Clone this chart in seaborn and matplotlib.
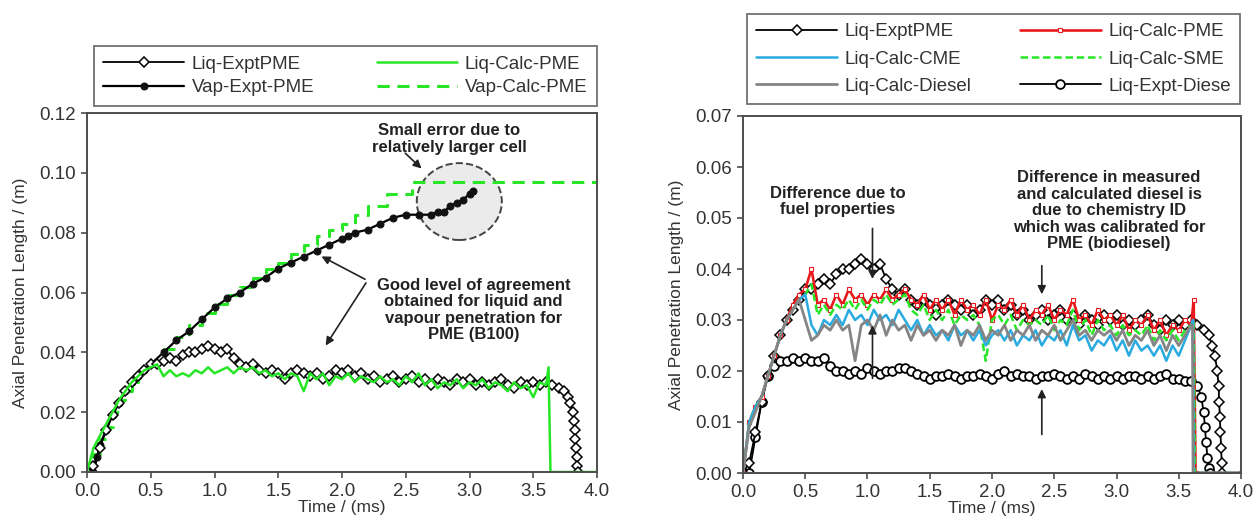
import numpy as np
import pandas as pd
import matplotlib
matplotlib.use('Agg')
import matplotlib.pyplot as plt
from matplotlib.patches import Ellipse
import seaborn as sns

t_grid = np.round(np.arange(0, 3.601, 0.05), 2)

# ---- left panel ----
liq_expt_pme = [0.000, 0.002, 0.008, 0.014, 0.019, 0.023, 0.027, 0.030, 0.032, 0.034,
                0.036, 0.036, 0.037, 0.038, 0.037, 0.039, 0.040, 0.040, 0.041, 0.042,
                0.041, 0.040, 0.041, 0.038, 0.036, 0.035, 0.036, 0.034, 0.033, 0.034,
                0.033, 0.031, 0.033, 0.034, 0.033, 0.032, 0.033, 0.031, 0.032, 0.034,
                0.033, 0.034, 0.032, 0.033, 0.031, 0.032, 0.030, 0.031, 0.032, 0.030,
                0.031, 0.032, 0.030, 0.031, 0.029, 0.031, 0.030, 0.029, 0.031, 0.030,
                0.031, 0.029, 0.030, 0.029, 0.030, 0.031, 0.029, 0.028, 0.030, 0.029,
                0.030, 0.029, 0.030]
liq_expt_pme_tail_t = [3.65, 3.70, 3.74, 3.77, 3.79, 3.81, 3.82, 3.825, 3.83, 3.835, 3.84, 3.845, 3.85]
liq_expt_pme_tail = [0.029, 0.028, 0.027, 0.025, 0.023, 0.020, 0.017, 0.014, 0.011, 0.008, 0.005, 0.002, 0.000]

liq_calc_pme_left = [0.000, 0.008, 0.012, 0.016, 0.020, 0.024, 0.027, 0.030, 0.032, 0.034,
                     0.035, 0.036, 0.032, 0.034, 0.032, 0.033, 0.032, 0.034, 0.033, 0.035,
                     0.033, 0.034, 0.035, 0.033, 0.035, 0.034, 0.035, 0.033, 0.034, 0.032,
                     0.033, 0.031, 0.033, 0.032, 0.027, 0.033, 0.031, 0.033, 0.029, 0.032,
                     0.031, 0.033, 0.030, 0.032, 0.031, 0.030, 0.032, 0.030, 0.031, 0.029,
                     0.032, 0.030, 0.033, 0.029, 0.031, 0.028, 0.030, 0.029, 0.031, 0.028,
                     0.030, 0.029, 0.031, 0.028, 0.030, 0.029, 0.027, 0.030, 0.028, 0.029,
                     0.025, 0.030, 0.029]
liq_calc_pme_left_tail_t = [3.62, 3.635, 4.0]
liq_calc_pme_left_tail = [0.035, 0.0, 0.0]

vap_expt_t = [0.05, 0.08, 0.10, 0.15, 0.20, 0.25, 0.30, 0.35, 0.40, 0.45, 0.50, 0.60, 0.70, 0.80,
              0.90, 1.00, 1.10, 1.20, 1.30, 1.40, 1.50, 1.60, 1.70, 1.80, 1.90, 2.00, 2.05, 2.10,
              2.20, 2.30, 2.40, 2.50, 2.60, 2.70, 2.75, 2.80, 2.85, 2.90, 2.95, 3.00, 3.03]
vap_expt_pme = [0.000, 0.005, 0.009, 0.014, 0.019, 0.023, 0.027, 0.030, 0.032, 0.034, 0.036, 0.040,
                0.044, 0.047, 0.051, 0.055, 0.058, 0.060, 0.063, 0.065, 0.068, 0.070, 0.072, 0.074,
                0.076, 0.078, 0.079, 0.080, 0.081, 0.083, 0.085, 0.086, 0.086, 0.086, 0.087, 0.087,
                0.089, 0.090, 0.091, 0.093, 0.094]

vap_calc_t = [0.0, 0.05, 0.10, 0.15, 0.20, 0.25, 0.30, 0.35, 0.40, 0.45, 0.50, 0.60, 0.70, 0.80,
              0.90, 1.00, 1.10, 1.20, 1.30, 1.40, 1.50, 1.60, 1.70, 1.80, 1.90, 2.00, 2.10, 2.20,
              2.35, 2.55, 4.00]
vap_calc_pme = [0.000, 0.006, 0.011, 0.015, 0.020, 0.024, 0.027, 0.030, 0.033, 0.035, 0.037, 0.041,
                0.045, 0.049, 0.053, 0.056, 0.059, 0.062, 0.065, 0.068, 0.070, 0.073, 0.076, 0.079,
                0.081, 0.083, 0.086, 0.089, 0.093, 0.097, 0.097]

# ---- right panel ----
liq_calc_pme = [0.000, 0.010, 0.013, 0.015, 0.019, 0.023, 0.027, 0.030, 0.033, 0.035,
                0.036, 0.040, 0.033, 0.034, 0.032, 0.035, 0.033, 0.036, 0.034, 0.035,
                0.033, 0.035, 0.034, 0.036, 0.034, 0.035, 0.036, 0.034, 0.033, 0.035,
                0.032, 0.034, 0.032, 0.034, 0.031, 0.034, 0.032, 0.033, 0.031, 0.034,
                0.030, 0.033, 0.032, 0.034, 0.031, 0.033, 0.030, 0.032, 0.031, 0.033,
                0.030, 0.032, 0.031, 0.034, 0.030, 0.031, 0.029, 0.032, 0.030, 0.031,
                0.029, 0.031, 0.028, 0.030, 0.029, 0.031, 0.028, 0.030, 0.027, 0.029,
                0.028, 0.030, 0.029]
liq_calc_pme_tail_t = [3.62, 3.635, 4.0]
liq_calc_pme_tail = [0.034, 0.0, 0.0]

liq_calc_sme = [0.000, 0.010, 0.013, 0.015, 0.019, 0.023, 0.027, 0.030, 0.032, 0.034,
                0.035, 0.037, 0.031, 0.033, 0.031, 0.033, 0.032, 0.034, 0.032, 0.034,
                0.032, 0.034, 0.033, 0.035, 0.033, 0.034, 0.035, 0.032, 0.031, 0.033,
                0.030, 0.032, 0.030, 0.032, 0.029, 0.031, 0.030, 0.031, 0.029, 0.022,
                0.030, 0.031, 0.029, 0.031, 0.028, 0.030, 0.029, 0.030, 0.029, 0.031,
                0.028, 0.030, 0.029, 0.032, 0.028, 0.030, 0.027, 0.030, 0.028, 0.029,
                0.027, 0.029, 0.027, 0.028, 0.027, 0.029, 0.026, 0.028, 0.026, 0.028,
                0.026, 0.028, 0.029]
liq_calc_sme_tail_t = [3.62, 3.63, 4.0]
liq_calc_sme_tail = [0.030, 0.0, 0.0]

liq_calc_cme = [0.000, 0.010, 0.013, 0.015, 0.019, 0.023, 0.027, 0.030, 0.032, 0.034,
                0.035, 0.029, 0.027, 0.030, 0.029, 0.031, 0.029, 0.032, 0.030, 0.031,
                0.029, 0.032, 0.030, 0.031, 0.029, 0.032, 0.030, 0.028, 0.030, 0.027,
                0.029, 0.027, 0.028, 0.026, 0.029, 0.027, 0.028, 0.026, 0.028, 0.025,
                0.027, 0.028, 0.026, 0.028, 0.025, 0.027, 0.026, 0.028, 0.025, 0.027,
                0.026, 0.028, 0.025, 0.029, 0.026, 0.027, 0.024, 0.026, 0.025, 0.027,
                0.024, 0.026, 0.023, 0.026, 0.024, 0.025, 0.023, 0.025, 0.022, 0.025,
                0.023, 0.026, 0.029]
liq_calc_cme_tail_t = [3.615, 3.62, 4.0]
liq_calc_cme_tail = [0.030, 0.0, 0.0]

liq_calc_diesel = [0.000, 0.009, 0.012, 0.015, 0.019, 0.023, 0.027, 0.030, 0.032, 0.034,
                   0.030, 0.026, 0.027, 0.029, 0.028, 0.030, 0.028, 0.029, 0.022, 0.029,
                   0.030, 0.028, 0.031, 0.027, 0.030, 0.028, 0.029, 0.026, 0.029, 0.027,
                   0.028, 0.026, 0.028, 0.027, 0.029, 0.025, 0.028, 0.027, 0.029, 0.026,
                   0.028, 0.027, 0.029, 0.026, 0.028, 0.027, 0.029, 0.026, 0.028, 0.027,
                   0.029, 0.026, 0.028, 0.030, 0.027, 0.028, 0.026, 0.028, 0.027, 0.028,
                   0.026, 0.028, 0.025, 0.027, 0.026, 0.028, 0.025, 0.027, 0.024, 0.027,
                   0.025, 0.027, 0.029]
liq_calc_diesel_tail_t = [3.61, 3.615, 4.0]
liq_calc_diesel_tail = [0.029, 0.0, 0.0]

liq_expt_diesel = [0.000, 0.000, 0.007, 0.014, 0.019, 0.021, 0.022, 0.022, 0.0225, 0.022,
                   0.0225, 0.022, 0.022, 0.0225, 0.021, 0.020, 0.020, 0.0195, 0.020, 0.0195,
                   0.0205, 0.020, 0.0195, 0.020, 0.020, 0.0205, 0.0205, 0.020, 0.0195, 0.019,
                   0.0185, 0.019, 0.019, 0.0195, 0.019, 0.0185, 0.019, 0.019, 0.0195, 0.019,
                   0.0185, 0.0195, 0.020, 0.019, 0.0195, 0.019, 0.019, 0.0185, 0.019, 0.019,
                   0.0195, 0.019, 0.0185, 0.019, 0.0185, 0.0195, 0.019, 0.0185, 0.019, 0.0185,
                   0.019, 0.0185, 0.019, 0.019, 0.0185, 0.019, 0.0185, 0.019, 0.0195, 0.0185,
                   0.0185, 0.018, 0.018]
liq_expt_diesel_tail_t = [3.65, 3.68, 3.70, 3.71, 3.72, 3.73, 3.74, 3.75]
liq_expt_diesel_tail = [0.017, 0.015, 0.012, 0.009, 0.006, 0.003, 0.001, 0.000]

x_ticks = [0.0, 0.5, 1.0, 1.5, 2.0, 2.5, 3.0, 3.5, 4.0]
left_y_ticks = [0.00, 0.02, 0.04, 0.06, 0.08, 0.10, 0.12]
right_y_ticks = [0.00, 0.01, 0.02, 0.03, 0.04, 0.05, 0.06, 0.07]


def series(t, y, t_tail=None, y_tail=None):
    t = list(t)
    y = list(y)
    if t_tail is not None:
        t = t + list(t_tail)
        y = y + list(y_tail)
    return pd.DataFrame({'t': t, 'y': y})


def draw(ax, df, label, **kw):
    sns.lineplot(data=df, x='t', y='y', ax=ax, label=label, estimator=None,
                 sort=False, legend=False, **kw)


def arrow(ax, tip, tail):
    ax.annotate('', xy=tip, xytext=tail,
                arrowprops=dict(arrowstyle='-|>', color='#222222', lw=1.2, mutation_scale=12))


sns.set_theme(style='ticks')
plt.rcParams['font.family'] = ['Liberation Sans', 'DejaVu Sans']
text_c = '#333333'
spine_c = '#4d4d4d'
green = '#26e626'
note_kw = dict(ha='center', va='center', fontsize=12, fontweight='bold', color='#222222',
               linespacing=1.12)

fig = plt.figure(figsize=(12.56, 5.24), dpi=100)
ax1 = fig.add_axes([87 / 1256, 1 - 472 / 524, 510 / 1256, 359 / 524])
ax2 = fig.add_axes([743 / 1256, 1 - 473 / 524, 498 / 1256, 357 / 524])

# 左图
ell = Ellipse((2.92, 0.0904), width=0.667, height=0.0257, facecolor='#ebebeb',
              edgecolor='#444444', linestyle='--', linewidth=1.4, zorder=0.5)
ax1.add_patch(ell)
draw(ax1, series(vap_calc_t, vap_calc_pme), 'Vap-Calc-PME', color=green, linewidth=2.2,
     linestyle=(0, (4, 2.5)), drawstyle='steps-post')
draw(ax1, series(vap_expt_t, vap_expt_pme), 'Vap-Expt-PME', color='black', linewidth=1.6,
     marker='o', markersize=5, markerfacecolor='#111111', markeredgecolor='#111111')
draw(ax1, series(t_grid, liq_expt_pme, liq_expt_pme_tail_t, liq_expt_pme_tail), 'Liq-ExptPME',
     color='black', linewidth=1.3, marker='D', markersize=4.8, markerfacecolor='white',
     markeredgecolor='black', markeredgewidth=1.1)
draw(ax1, series(t_grid, liq_calc_pme_left, liq_calc_pme_left_tail_t, liq_calc_pme_left_tail),
     'Liq-Calc-PME', color=green, linewidth=1.8)

ax1.set_xlim(0, 4.0)
ax1.set_ylim(0, 0.12)
ax1.set_yticks(left_y_ticks)
ax1.set_yticklabels([f'{v:.2f}' for v in left_y_ticks])

ax1.text(2.84, 0.1113, 'Small error due to\nrelatively larger cell', **note_kw)
arrow(ax1, (2.64, 0.1008), (2.48, 0.1072))
ax1.text(3.03, 0.0541, 'Good level of agreement\nobtained for liquid and\nvapour penetration for\nPME (B100)',
         **note_kw)
arrow(ax1, (1.82, 0.0725), (2.2, 0.064))
arrow(ax1, (1.86, 0.0415), (2.2, 0.064))

# 右图
draw(ax2, series(t_grid, liq_expt_diesel, liq_expt_diesel_tail_t, liq_expt_diesel_tail),
     'Liq-Expt-Diese', color='black', linewidth=1.3, marker='o', markersize=6.3,
     markerfacecolor='white', markeredgecolor='black', markeredgewidth=1.3)
draw(ax2, series(t_grid, liq_expt_pme, liq_expt_pme_tail_t, liq_expt_pme_tail), 'Liq-ExptPME',
     color='black', linewidth=1.3, marker='D', markersize=4.8, markerfacecolor='white',
     markeredgecolor='black', markeredgewidth=1.1)
draw(ax2, series(t_grid, liq_calc_pme, liq_calc_pme_tail_t, liq_calc_pme_tail), 'Liq-Calc-PME',
     color='#e8191c', linewidth=1.9, marker='s', markersize=3, markerfacecolor='white',
     markeredgecolor='#e8191c', markeredgewidth=0.8)
draw(ax2, series(t_grid, liq_calc_sme, liq_calc_sme_tail_t, liq_calc_sme_tail), 'Liq-Calc-SME',
     color=green, linewidth=1.8, linestyle=(0, (3, 1.5)))
draw(ax2, series(t_grid, liq_calc_cme, liq_calc_cme_tail_t, liq_calc_cme_tail), 'Liq-Calc-CME',
     color='#29aae1', linewidth=1.8)
draw(ax2, series(t_grid, liq_calc_diesel, liq_calc_diesel_tail_t, liq_calc_diesel_tail),
     'Liq-Calc-Diesel', color='#858585', linewidth=2.0)

ax2.set_xlim(0, 4.0)
ax2.set_ylim(0, 0.07)
ax2.set_yticks(right_y_ticks)
ax2.set_yticklabels([f'{v:.2f}' for v in right_y_ticks])

ax2.text(0.76, 0.0532, 'Difference due to\nfuel properties', **note_kw)
arrow(ax2, (1.04, 0.0375), (1.04, 0.0485))
arrow(ax2, (1.04, 0.0295), (1.04, 0.0180))
ax2.text(2.94, 0.0514, 'Difference in measured\nand calculated diesel is\ndue to chemistry ID\n'
         'which was calibrated for\nPME (biodiesel)', **note_kw)
arrow(ax2, (2.40, 0.0345), (2.40, 0.0412))
arrow(ax2, (2.40, 0.0170), (2.40, 0.0070))

for ax in (ax1, ax2):
    ax.set_xticks(x_ticks)
    ax.set_xticklabels([f'{v:.1f}' for v in x_ticks])
    ax.set_xlabel('Time / (ms)', fontsize=12.5, color=text_c, labelpad=0)
    ax.set_ylabel('Axial Penetration Length / (m)', fontsize=12.5, color=text_c, labelpad=8)
    ax.tick_params(axis='both', direction='out', length=4, width=1.2, colors=spine_c,
                   labelsize=13.5, labelcolor=text_c, pad=4)
    for s in ax.spines.values():
        s.set_visible(True)
        s.set_color(spine_c)
        s.set_linewidth(1.4)

# 图例
h1 = {l.get_label(): l for l in ax1.get_lines()}
order1 = ['Liq-ExptPME', 'Vap-Expt-PME', 'Liq-Calc-PME', 'Vap-Calc-PME']
leg1 = fig.legend([h1[k] for k in order1], order1, ncol=2, loc='center', mode='expand',
                  bbox_to_anchor=(94 / 1256, 1 - 104 / 524, 503 / 1256, 56 / 524),
                  bbox_transform=fig.transFigure, fontsize=13.5, handlelength=4.3,
                  frameon=True, fancybox=False, borderaxespad=0, labelspacing=0.35,
                  handletextpad=0.4, borderpad=0.5)
h2 = {l.get_label(): l for l in ax2.get_lines()}
order2 = ['Liq-ExptPME', 'Liq-Calc-CME', 'Liq-Calc-Diesel', 'Liq-Calc-PME', 'Liq-Calc-SME', 'Liq-Expt-Diese']
leg2 = fig.legend([h2[k] for k in order2], order2, ncol=2, loc='center', mode='expand',
                  bbox_to_anchor=(747 / 1256, 1 - 106 / 524, 493 / 1256, 94 / 524),
                  bbox_transform=fig.transFigure, fontsize=13.5, handlelength=4.3,
                  frameon=True, fancybox=False, borderaxespad=0, labelspacing=0.55,
                  handletextpad=0.4, borderpad=0.5)
for leg in (leg1, leg2):
    leg.get_frame().set_edgecolor(spine_c)
    leg.get_frame().set_linewidth(1.3)
    for txt in leg.get_texts():
        txt.set_color(text_c)

fig.savefig('out.png', dpi=100)
